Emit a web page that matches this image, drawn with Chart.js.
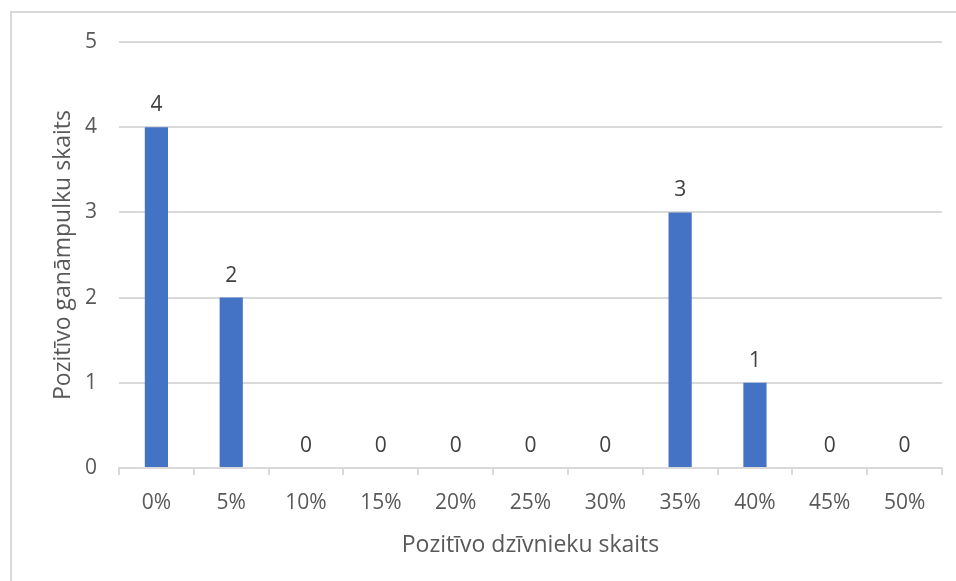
<!DOCTYPE html>
<html>
<head>
<meta charset="utf-8">
<script src="https://cdn.jsdelivr.net/npm/chart.js@4/dist/chart.umd.min.js"></script>
<style>
  html, body { margin: 0; padding: 0; background: #ffffff; }
  #wrap { width: 956px; height: 581px; }
</style>
</head>
<body>
<div id="wrap"><canvas id="c" width="956" height="581"></canvas></div>
<script>
// Share of positive animals per herd (x) and number of herds (y)
const categories = ['0%', '5%', '10%', '15%', '20%', '25%', '30%', '35%', '40%', '45%', '50%'];
const herdCounts = [4, 2, 0, 0, 0, 0, 0, 3, 1, 0, 0];
const yTicks = [0, 1, 2, 3, 4, 5];

const FONT = "'Open Sans', sans-serif";
const TEXT = '#595959';
const LINE = '#d9d9d9';

// Light frame around the chart
const framePlugin = {
  id: 'frame',
  beforeDraw(chart) {
    const ctx = chart.ctx;
    ctx.save();
    ctx.strokeStyle = LINE;
    ctx.lineWidth = 2;
    ctx.beginPath();
    ctx.moveTo(11, chart.height + 5);
    ctx.lineTo(11, 12);
    ctx.lineTo(chart.width + 5, 12);
    ctx.stroke();
    ctx.restore();
  }
};

// Value labels above each bar
const valueLabels = {
  id: 'valueLabels',
  afterDatasetsDraw(chart) {
    const ctx = chart.ctx;
    const meta = chart.getDatasetMeta(0);
    const data = chart.data.datasets[0].data;
    ctx.save();
    ctx.font = '21px ' + FONT;
    ctx.fillStyle = '#404040';
    ctx.textAlign = 'center';
    ctx.textBaseline = 'alphabetic';
    meta.data.forEach((bar, i) => {
      ctx.fillText(String(data[i]), bar.x, bar.y - 16);
    });
    ctx.restore();
  }
};

new Chart(document.getElementById('c'), {
  type: 'bar',
  data: {
    labels: categories,
    datasets: [{
      data: herdCounts,
      backgroundColor: '#4472c4',
      borderWidth: 0,
      categoryPercentage: 1,
      barPercentage: 0.31
    }]
  },
  options: {
    responsive: false,
    animation: false,
    devicePixelRatio: 1,
    layout: { padding: { left: 0, top: 42, right: 14, bottom: 0 } },
    plugins: {
      legend: { display: false },
      tooltip: { enabled: false }
    },
    scales: {
      x: {
        grid: {
          offset: true,
          drawOnChartArea: false,
          drawTicks: true,
          tickLength: 7,
          color: LINE,
          lineWidth: 2
        },
        border: { display: true, color: LINE, width: 2 },
        ticks: { color: TEXT, font: { family: FONT, size: 21 }, padding: 15, maxRotation: 0 },
        title: {
          display: true,
          text: 'Pozitīvo dzīvnieku skaits',
          color: TEXT,
          font: { family: FONT, size: 23 },
          padding: { top: 22, bottom: 22 }
        },
        afterFit(scale) { scale.height = 113; }
      },
      y: {
        min: 0,
        max: 5,
        afterBuildTicks(scale) { scale.ticks = yTicks.map(v => ({ value: v })); },
        grid: { color: LINE, lineWidth: 2, drawTicks: false },
        border: { display: false },
        ticks: { color: TEXT, font: { family: FONT, size: 21 }, padding: 22 },
        title: {
          display: true,
          text: 'Pozitīvo ganāmpulku skaits',
          color: TEXT,
          font: { family: FONT, size: 23 },
          padding: { top: 50, bottom: 50 }
        },
        afterFit(scale) { scale.width = 119; }
      }
    }
  },
  plugins: [framePlugin, valueLabels]
});
</script>
</body>
</html>
